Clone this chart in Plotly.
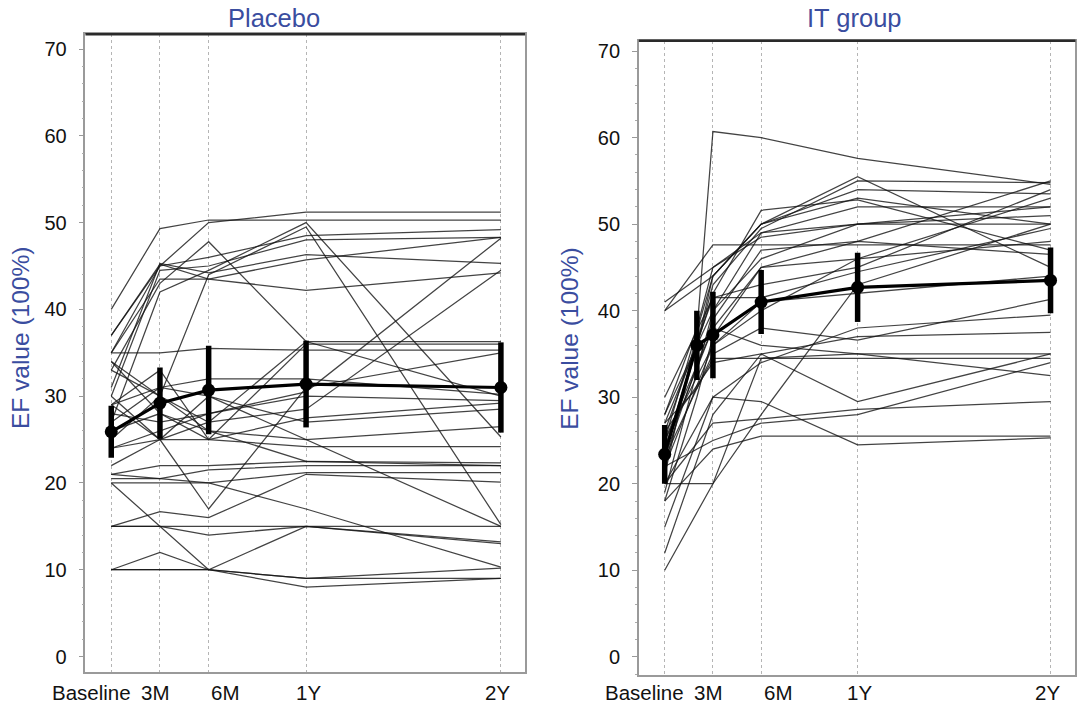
import plotly.graph_objects as go

# ---- visit schedule (months from baseline) ----
visit_months = [0, 3, 6, 12, 24]
visit_labels = ["Baseline", "3M", "6M", "1Y", "2Y"]
it_months = [0, 2, 3, 6, 12, 24]

# ---- Placebo: individual EF values per visit ----
placebo_baseline = [40, 37, 35, 30, 33, 27, 25, 35, 37, 31, 24, 22, 29, 35, 33, 28, 24, 30,
                    26, 34, 21, 20.5, 20, 29, 15, 15, 15, 20, 10, 10, 10, 21, 27, 29, 34]
placebo_3m = [49.3, 45, 45, 44.5, 43, 42, 30, 43.5, 45.2, 45.3, 26, 25, 31, 35, 30, 27, 25, 25,
              28, 28, 22, 20.5, 20, 25, 16.7, 15, 15, 15, 12, 10, 10, 20.5, 31, 33, 30]
placebo_6m = [50.3, 50, 46, 45, 47.8, 44.5, 44, 43.5, 43.5, 44.2, 28, 27, 32, 35.5, 27, 28, 25, 30,
              25, 26, 22, 21.5, 20, 17, 16, 14, 15, 10, 10, 10, 10, 20, 30, 25, 26]
placebo_1y = [50.3, 51.2, 48.5, 48, 36.3, 50, 49.5, 42.2, 45.7, 46.3, 30.5, 28.5, 32, 35.3, 36.3, 30,
              27.5, 27, 24.2, 25, 22.5, 22, 21.2, 31, 21, 15, 15, 15, 9, 8, 9, 17, 25, 36, 22.5]
placebo_2y = [50.3, 51.2, 49.2, 48.3, 30, 25.3, 15.2, 44.2, 48.3, 45.3, 48.2, 44.5, 30.2, 35.3, 36.3,
              29.5, 29.2, 28.5, 24.2, 26.5, 22.3, 22, 21.2, 35, 20.1, 13.2, 15, 13, 10.2, 9, 9, 10.3,
              15, 36, 22]

# ---- IT group: individual EF values per visit (None = no 2M visit) ----
it_baseline = [21, 25, 22, 24, 40, 40, 41, 28, 26, 24, 22, 30, 23, 27, 20, 18, 26, 20, 22, 25,
               10, 20, 15, 19, 27, 23, 28, 12, 25, 18]
it_2m = [37.5, None, None, None, None, None, None, None, None, None, None, None, None, 31, None,
         None, None, None, None, None, None, None, None, 33, 36, None, 38, None, None, 30]
it_3m = [60.7, 44, 43, 42, 44, 47.6, 45, 40, 41.5, 38, 36, 41.5, 35, 34.5, 30, 24, 34, 27, 25, 38,
         20, 20, 30, 40, 44, 39, 45, 28, 36, 37]
it_6m = [60, 50, 49.5, 51.6, 50, 47.6, 48.5, 49, 43, 45, 40, 41.5, 38, 34.5, 29.5, 25.5, 35, 27.5,
         27, 36, 28, 34.5, 34, 46, 50, 47, 49, 35, 41, 45]
it_1y = [57.6, 55.5, 55, 52.8, 53, 47.6, 50, 50, 45, 48, 46, 44.5, 36.6, 34.5, 24.5, 25.5, 29.5,
         28.6, 28, 35, 43, 35, 38, 50, 54, 48, 52, 37, 42, 46]
it_2y = [54.6, 45, 54.8, 47, 50, 47.6, 50, 52, 54, 55, 53, 49.5, 41.3, 34.5, 25.3, 25.5, 35, 29.5,
         34, 32.5, 50, 35, 39.5, 51, 53.5, 46.5, 52, 37.5, 44, 48]

# ---- group means with SD bars ----
placebo_mean = [25.9, 29.2, 30.7, 31.4, 31.0]
placebo_err = [3.0, 4.1, 5.1, 5.0, 5.2]
it_mean = [23.4, 36.0, 37.2, 41.0, 42.7, 43.5]
it_err = [3.4, 4.0, 5.0, 3.7, 4.0, 3.8]

BLUE = "#3a4d9f"
LINE = "rgba(20,20,20,0.8)"
FONT = "Liberation Sans, Arial, sans-serif"

fig = go.Figure()

# individual trajectories - placebo
placebo_cols = [placebo_baseline, placebo_3m, placebo_6m, placebo_1y, placebo_2y]
for i in range(len(placebo_baseline)):
    fig.add_trace(go.Scatter(
        x=visit_months, y=[c[i] for c in placebo_cols], mode="lines",
        line=dict(color=LINE, width=1.25), xaxis="x", yaxis="y",
        showlegend=False, hoverinfo="skip"))

# individual trajectories - IT group
it_cols = [it_baseline, it_2m, it_3m, it_6m, it_1y, it_2y]
for i in range(len(it_baseline)):
    fig.add_trace(go.Scatter(
        x=it_months, y=[c[i] for c in it_cols], mode="lines", connectgaps=True,
        line=dict(color=LINE, width=1.25), xaxis="x2", yaxis="y2",
        showlegend=False, hoverinfo="skip"))

# means with error bars
for xs, ys, es, xa, ya in [(visit_months, placebo_mean, placebo_err, "x", "y"),
                           (it_months, it_mean, it_err, "x2", "y2")]:
    fig.add_trace(go.Scatter(
        x=xs, y=ys, mode="lines+markers", xaxis=xa, yaxis=ya,
        line=dict(color="black", width=3.2),
        marker=dict(color="black", size=13),
        error_y=dict(type="data", array=es, color="black", thickness=5.5, width=0),
        showlegend=False))

axis_common = dict(showline=True, mirror=True, linecolor="#9a9a9a", linewidth=1.5,
                   zeroline=False)
xcommon = dict(axis_common, tickvals=visit_months, showticklabels=False, ticks="",
               showgrid=True, gridcolor="#b5b5b5", griddash="dot", gridwidth=1.2)
ycommon = dict(axis_common, tickvals=[0, 10, 20, 30, 40, 50, 60, 70],
               showgrid=False, ticks="outside", ticklen=5, tickcolor="#999",
               tickfont=dict(family=FONT, size=20, color="#111"),
               ticklabelstandoff=8,
               minor=dict(ticks="outside", ticklen=2, tickcolor="#aaa", dtick=2))

fig.update_layout(
    width=1080, height=707, margin=dict(l=0, r=0, t=0, b=0),
    paper_bgcolor="white", plot_bgcolor="white",
    xaxis=dict(xcommon, domain=[0.0791, 0.4862], range=[-1.59, 25.49]),
    yaxis=dict(ycommon, domain=[0.0499, 0.9515], range=[-1.75, 71.7]),
    xaxis2=dict(xcommon, domain=[0.5915, 0.9958], range=[-1.61, 25.55], anchor="y2"),
    yaxis2=dict(ycommon, domain=[0.0453, 0.9424], range=[-2.1, 71.2], anchor="x2"),
)

# darker top border of each frame
for xa, ya in [("x", "y"), ("x2", "y2")]:
    fig.add_shape(type="line", xref=f"{xa} domain", yref=f"{ya} domain",
                  x0=0, x1=1, y0=1, y1=1, line=dict(color="#2a2a2a", width=2.5))

ann = []
# visit labels under each panel
label_shift = [-20, -4.5, 16.5, 2, -3]
for xa in ["x", "x2"]:
    for m, lab, sh in zip(visit_months, visit_labels, label_shift):
        ann.append(dict(x=m, xref=xa, y=0.0212, yref="paper", text=lab, showarrow=False,
                        xanchor="center", yanchor="middle", xshift=sh,
                        font=dict(family=FONT, size=20.5, color="#111")))
# panel titles
ann.append(dict(x=0.2534, y=0.9752, xref="paper", yref="paper", text="Placebo",
                showarrow=False, xanchor="center", yanchor="middle",
                font=dict(family=FONT, size=25.5, color=BLUE)))
ann.append(dict(x=0.7909, y=0.9752, xref="paper", yref="paper", text="IT group",
                showarrow=False, xanchor="center", yanchor="middle",
                font=dict(family=FONT, size=25.5, color=BLUE)))
# y-axis titles
for xp in [0.0192, 0.5273]:
    ann.append(dict(x=xp, y=0.5214, xref="paper", yref="paper", text="EF value (100%)",
                    textangle=-90, showarrow=False, xanchor="center", yanchor="middle",
                    font=dict(family=FONT, size=24.5, color=BLUE)))
fig.update_layout(annotations=ann)

fig.write_html("out.html")
